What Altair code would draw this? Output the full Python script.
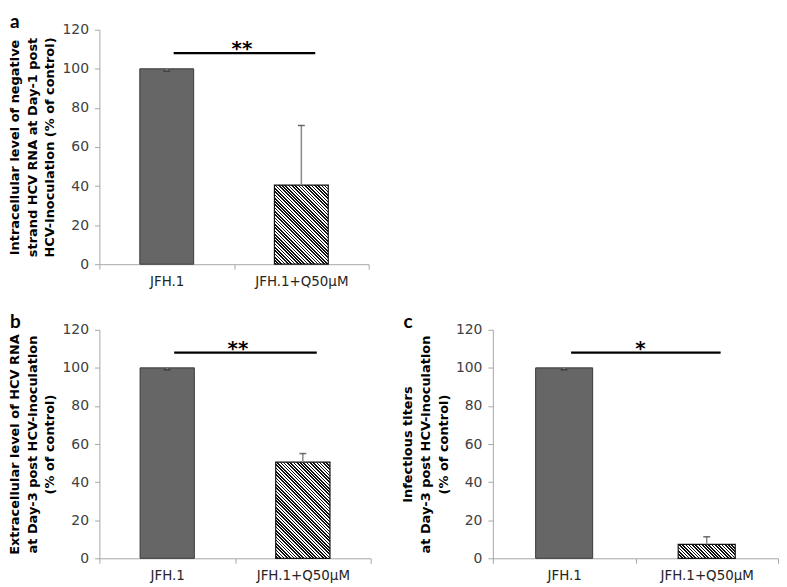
import math
import altair as alt
import pandas as pd

# ---------------- data ----------------
categories = ["JFH.1", "JFH.1+Q50μM"]

a_values = [100, 40.5]
a_err_up = [0, 30.5]
a_err_down = [1.2, 0]

b_values = [100, 50.5]
b_err_up = [0, 4.5]
b_err_down = [1.0, 0]

c_values = [100, 7.3]
c_err_up = [0, 4.0]
c_err_down = [1.0, 0]

a_title = ["Intracellular level of negative", "strand HCV RNA at Day-1 post", "HCV-inoculation (% of control)"]
b_title = ["Extracellular level of HCV RNA", "at Day-3 post HCV-inoculation", "(% of control)"]
c_title = ["Infectious titers", "at Day-3 post HCV-inoculation", "(% of control)"]

a_stars = "**"
b_stars = "**"
c_stars = "*"
sig_level = 108

y_ticks = [0, 20, 40, 60, 80, 100, 120]
Y_MAX = 120

FONT = "DejaVu Sans"


def hatch_gradient(w, h, period=3.3, frac=0.5):
    """Diagonal '\\' hatch emulated with a hard-stop linear gradient."""
    s = (w + h) / (w * w + h * h)
    x1, y1 = 1.0, 0.0
    x2, y2 = 1.0 - s * w, s * h
    n = (w + h) / period
    stops = []
    for i in range(int(math.ceil(n))):
        a = min(i / n, 1.0)
        b = min((i + frac) / n, 1.0)
        c = min((i + 1) / n, 1.0)
        stops += [
            alt.GradientStop(color="#111111", offset=a),
            alt.GradientStop(color="#111111", offset=b),
            alt.GradientStop(color="#ffffff", offset=b),
            alt.GradientStop(color="#ffffff", offset=c),
        ]
    return alt.LinearGradient(gradient="linear", stops=stops, x1=x1, y1=y1, x2=x2, y2=y2)


def panel(values, err_up, err_down, title_lines, stars, label, label_dx, W, H, star_dx):
    df = pd.DataFrame({
        "cat": categories,
        "val": values,
        "lo": [v - d for v, d in zip(values, err_down)],
        "hi": [v + u for v, u in zip(values, err_up)],
        "cap": [v - d if d > 0 else v + u for v, d, u in zip(values, err_down, err_up)],
    })
    xs = alt.Scale(domain=categories, paddingInner=0, paddingOuter=0)
    ys = alt.Scale(domain=[0, Y_MAX], nice=False)
    x_axis = alt.Axis(title=None, labelAngle=0, tickBand="extent", tickSize=5,
                      tickColor="#a6a6a6", domainColor="#a6a6a6", labelFont=FONT,
                      labelFontSize=13.5, labelColor="#262626", labelPadding=5)
    y_axis = alt.Axis(values=y_ticks, title=title_lines, titleFont=FONT, titleFontSize=13,
                      titleFontWeight="bold", titleColor="#000000", titleLineHeight=18,
                      titlePadding=5, labelFont=FONT, labelFontSize=14, labelColor="#404040",
                      labelPadding=6, labelOverlap=False, labelFlush=False, tickSize=5,
                      tickColor="#a6a6a6", domainColor="#a6a6a6", grid=False)

    def X(field, **kw):
        return alt.X(field, type="nominal", scale=xs, sort=categories, axis=x_axis, **kw)

    def Y(field):
        return alt.Y(field, type="quantitative", scale=ys, axis=y_axis)

    base = alt.Chart(df)
    solid = base.transform_filter(alt.datum.cat == categories[0]).mark_bar(
        width=alt.RelativeBandSize(0.4), color="#666666", stroke="#3a3a3a", strokeWidth=1
    ).encode(x=X("cat"), y=Y("val"))

    bw = 0.4 * W / 2
    bh = values[1] / Y_MAX * H
    hatched = base.transform_filter(alt.datum.cat == categories[1]).mark_bar(
        width=alt.RelativeBandSize(0.4), fill=hatch_gradient(bw, bh), stroke="#111111", strokeWidth=1.2
    ).encode(x=X("cat"), y=Y("val"))

    stem = base.transform_filter(alt.datum.hi > alt.datum.lo).mark_rule(
        color="#8a8a8a", strokeWidth=1.5
    ).encode(x=X("cat"), y=Y("lo"), y2="hi:Q")
    cap = base.mark_tick(color="#303030", size=7, thickness=1.5, orient="horizontal").encode(
        x=X("cat"), y=Y("cap")
    )

    sig_df = pd.DataFrame({"cat": [categories[0]], "c2": [categories[1]], "val": [sig_level], "t": [stars]})
    sig = alt.Chart(sig_df).mark_rule(color="#000000", strokeWidth=2.2, xOffset=7, x2Offset=14).encode(
        x=X("cat"), x2="c2:N", y=Y("val")
    )
    star_txt = alt.Chart(sig_df).mark_text(
        font=FONT, fontSize=20, fontWeight="bold", baseline="alphabetic", align="center",
        dx=star_dx, dy=2, color="#000000"
    ).encode(x=X("cat", bandPosition=1), y=Y("val"), text="t:N")

    return alt.layer(solid, hatched, stem, cap, sig, star_txt).properties(
        width=W, height=H,
        title=alt.TitleParams(label, anchor="start", frame="group", dx=label_dx, offset=-9,
                              font="Lato", fontSize=19, fontWeight="bold", color="#000000"),
    )


pa = panel(a_values, a_err_up, a_err_down, a_title, a_stars, "a", -90, 271, 236, 8)
pb = panel(b_values, b_err_up, b_err_down, b_title, b_stars, "b", -90, 273, 230, 3)
pc = panel(c_values, c_err_up, c_err_down, c_title, c_stars, "c", -90, 287, 230, 5)

spacer = alt.Chart(pd.DataFrame({"z": [0]})).mark_point(opacity=0).encode(
    x=alt.value(0), y=alt.value(0)
).properties(width=1, height=1)

chart = alt.concat(pa, spacer, pb, pc, columns=2, spacing={"row": 25, "column": 30}).properties(
    align="each", padding={"top": 3, "left": 0, "right": 0, "bottom": 0}, background="#ffffff"
).configure_view(stroke=None)

chart.save("out.html", embed_options={"renderer": "svg", "actions": False})
